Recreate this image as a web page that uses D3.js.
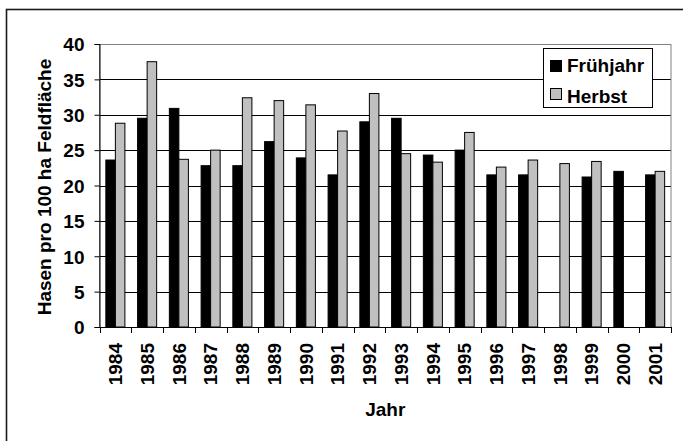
<!DOCTYPE html>
<html><head><meta charset="utf-8">
<script src="https://cdn.jsdelivr.net/npm/d3@7"></script>
<style>body{margin:0;background:#fff}svg{display:block}text{font-family:Arial,"Liberation Sans",sans-serif;font-weight:bold;fill:#000}</style>
</head><body>
<script>
const years = ["1984","1985","1986","1987","1988","1989","1990","1991","1992","1993","1994","1995","1996","1997","1998","1999","2000","2001"];
const fruehjahr = [23.6,29.5,30.9,22.8,22.8,26.2,23.9,21.5,29.0,29.5,24.3,25.0,21.5,21.5,null,21.2,22.0,21.5];
const herbst = [28.8,37.5,23.7,25.0,32.4,32.0,31.4,27.7,33.0,24.5,23.3,27.5,22.6,23.6,23.1,23.4,null,22.0];
const seriesNames = ["Frühjahr","Herbst"];
const seriesColors = ["#000000","#c0c0c0"];
const yTicks = [0,5,10,15,20,25,30,35,40];

const W=683,H=441;
const svg=d3.select("body").append("svg").attr("width",W).attr("height",H);
svg.append("rect").attr("x",6.5).attr("y",9.5).attr("width",W).attr("height",H).attr("fill","none").attr("stroke","#1a1a1a").attr("stroke-width",1.6);

const L=99.5,R=671,T=44,B=327;
const x=d3.scaleBand().domain(years).range([L,R]).paddingInner(0).paddingOuter(0);
const xs=d3.scaleBand().domain(seriesNames).range([x.bandwidth()*0.2,x.bandwidth()*0.8]);
const y=d3.scaleLinear().domain([0,40]).range([B,T]);

// gridlines
svg.append("g").selectAll("line").data(yTicks.filter(d=>d>0&&d<40)).join("line")
  .attr("x1",L).attr("x2",R).attr("y1",d=>Math.round(y(d))+0.5).attr("y2",d=>Math.round(y(d))+0.5)
  .attr("stroke","#000").attr("stroke-width",1);
// plot border
svg.append("rect").attr("x",L).attr("y",Math.round(y(40))+0.5).attr("width",R-L).attr("height",B-Math.round(y(40)))
  .attr("fill","none").attr("stroke","#808080").attr("stroke-width",1);

const data=[];
years.forEach((yr,i)=>{
  [fruehjahr[i],herbst[i]].forEach((v,j)=>{ if(v!=null) data.push({yr,s:seriesNames[j],v,c:seriesColors[j]}); });
});
svg.append("g").selectAll("rect").data(data).join("rect")
  .attr("x",d=>x(d.yr)+xs(d.s)).attr("width",xs.bandwidth())
  .attr("y",d=>y(d.v)).attr("height",d=>B-y(d.v))
  .attr("fill",d=>d.c).attr("stroke","#000").attr("stroke-width",1);

// y axis
const ya=svg.append("g").attr("transform",`translate(${L},0)`)
  .call(d3.axisLeft(y).tickValues(yTicks).tickSize(5).tickPadding(10));
ya.select(".domain").attr("stroke","#000");
ya.selectAll("text").style("font-size","19px").attr("dy","0.36em");

// x axis
const xa=svg.append("g").attr("transform",`translate(0,${B})`);
xa.append("line").attr("x1",L).attr("x2",R).attr("y1",0.5).attr("y2",0.5).attr("stroke","#000");
const bounds=years.map(d=>x(d)).concat([R]);
xa.selectAll("line.tk").data(bounds).join("line").attr("class","tk")
  .attr("x1",d=>Math.round(d)+0.5).attr("x2",d=>Math.round(d)+0.5).attr("y1",0).attr("y2",6).attr("stroke","#000");
xa.selectAll("text").data(years).join("text")
  .attr("transform",d=>`translate(${x(d)+x.bandwidth()/2},16) rotate(-90)`)
  .attr("text-anchor","end").attr("dy","0.36em").style("font-size","19px").text(d=>d);

// titles
svg.append("text").attr("transform","translate(51,187) rotate(-90)").attr("text-anchor","middle")
  .style("font-size","19px").text("Hasen pro 100 ha Feldfläche");
svg.append("text").attr("x",(L+R)/2).attr("y",416).attr("text-anchor","middle").style("font-size","19px").text("Jahr");

// legend
const lg=svg.append("g");
lg.append("rect").attr("x",543.5).attr("y",48.5).attr("width",109).attr("height",59).attr("fill","#fff").attr("stroke","#000");
seriesNames.forEach((n,i)=>{
  lg.append("rect").attr("x",550.5).attr("y",60.5+i*28).attr("width",11).attr("height",11).attr("fill",seriesColors[i]).attr("stroke","#000");
  lg.append("text").attr("x",567).attr("y",72+i*30.5).style("font-size","19px").text(n);
});
</script>
</body></html>
